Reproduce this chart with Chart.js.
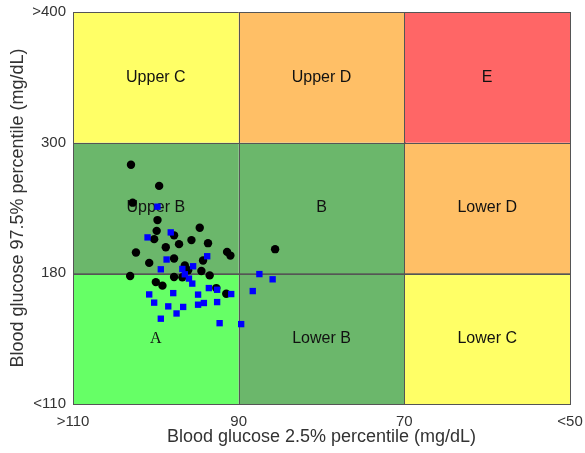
<!DOCTYPE html>
<html>
<head>
<meta charset="utf-8">
<script src="https://cdn.jsdelivr.net/npm/chart.js@4"></script>
<style>
  html, body { margin: 0; padding: 0; background: #fff; }
  #wrap { width: 585px; height: 453px; }
</style>
</head>
<body>
<div id="wrap"><canvas id="chart" width="585" height="453"></canvas></div>
<script>
// zone edges (mg/dL)
const xEdges = [110, 90, 70, 50];
const xTickLabels = ['>110', '90', '70', '<50'];
const yEdges = [110, 180, 300, 400];
const yTickLabels = ['<110', '180', '300', '>400'];

// zones, row by row from bottom to top, columns left to right
const zoneLabels = [
  ['A', 'Lower B', 'Lower C'],
  ['Upper B', 'B', 'Lower D'],
  ['Upper C', 'Upper D', 'E']
];
const zoneColors = [
  ['#66ff66', '#6bb76b', '#ffff66'],
  ['#6bb76b', '#6bb76b', '#ffbf66'],
  ['#ffff66', '#ffbf66', '#ff6666']
];

// black circles
const circleX = [103.0, 99.6, 102.8, 99.8, 99.9, 94.7, 97.8, 100.2, 95.7, 97.2, 93.7, 98.8, 102.4, 91.4, 91.0,
  85.6, 100.8, 97.8, 94.3, 96.5, 96.1, 94.5, 93.5, 103.1, 97.8, 96.8, 100.0, 99.2, 92.7, 91.5];
const circleY = [279.7, 260.3, 244.9, 228.9, 219.0, 221.8, 214.9, 211.4, 210.5, 206.8, 207.7, 204.0, 199.1, 199.7, 196.3,
  202.2, 189.6, 193.6, 191.8, 187.2, 182.8, 182.2, 178.9, 178.6, 178.0, 177.9, 175.3, 173.4, 172.1, 169.1];

// blue squares
const squareX = [99.8, 98.2, 101.0, 93.8, 98.7, 95.5, 99.4, 96.8, 96.5, 96.0, 95.6, 87.5, 85.9, 93.6, 92.6,
  90.9, 88.3, 100.8, 97.9, 94.9, 100.2, 98.5, 96.7, 94.9, 94.2, 92.6, 97.5, 99.4, 92.3, 89.7];
const squareY = [241.2, 217.6, 213.0, 195.7, 192.7, 186.5, 183.7, 184.0, 179.5, 177.2, 174.5, 179.6, 176.8, 172.1, 171.2,
  168.9, 170.5, 168.7, 169.4, 168.6, 164.3, 162.3, 162.0, 163.2, 164.1, 164.6, 158.5, 155.7, 153.3, 152.8];

// the y axis is split into equal bands, so map mg/dL to band units
function toBand(v) {
  for (let i = 0; i < yEdges.length - 1; i++) {
    if (v <= yEdges[i + 1]) return i + (v - yEdges[i]) / (yEdges[i + 1] - yEdges[i]);
  }
  return yEdges.length - 1;
}

const pts = (xs, ys) => xs.map((x, i) => ({ x: x, y: toBand(ys[i]) }));

const zonePlugin = {
  id: 'zones',
  beforeDatasetsDraw(chart) {
    const { ctx, scales: { x, y } } = chart;
    ctx.save();
    for (let r = 0; r < 3; r++) {
      for (let c = 0; c < 3; c++) {
        const x0 = x.getPixelForValue(xEdges[c]), x1 = x.getPixelForValue(xEdges[c + 1]);
        const y0 = y.getPixelForValue(r + 1), y1 = y.getPixelForValue(r);
        ctx.fillStyle = zoneColors[r][c];
        ctx.fillRect(x0, y0, x1 - x0, y1 - y0);
        ctx.strokeStyle = '#555';
        ctx.lineWidth = 1;
        ctx.strokeRect(Math.round(x0) + 0.5, Math.round(y0) + 0.5, Math.round(x1 - x0), Math.round(y1 - y0));
        ctx.fillStyle = '#111';
        ctx.textAlign = 'center';
        ctx.textBaseline = 'middle';
        ctx.font = zoneLabels[r][c] === 'A' ? '16px "Liberation Serif"' : '16px "Liberation Sans", Arial';
        ctx.fillText(zoneLabels[r][c], (x0 + x1) / 2, (y0 + y1) / 2);
      }
    }
    ctx.restore();
  }
};

new Chart(document.getElementById('chart'), {
  type: 'scatter',
  data: {
    datasets: [
      {
        data: pts(squareX, squareY),
        pointStyle: 'rect',
        pointRadius: 4.5,
        backgroundColor: '#0000ff',
        borderWidth: 0
      },
      {
        data: pts(circleX, circleY),
        pointStyle: 'circle',
        pointRadius: 4.2,
        backgroundColor: '#000',
        borderWidth: 0
      }
    ]
  },
  options: {
    responsive: false,
    animation: false,
    layout: { padding: { top: 12, right: 15, left: 0, bottom: 0 } },
    plugins: { legend: { display: false }, tooltip: { enabled: false } },
    scales: {
      x: {
        type: 'linear',
        min: 50, max: 110,
        reverse: true,
        grid: { display: false, drawTicks: false },
        border: { display: false },
        afterBuildTicks: s => { s.ticks = xEdges.map(v => ({ value: v })); },
        afterFit: s => { s.height = 49; s.paddingLeft = 0; s.paddingRight = 0; },
        ticks: {
          padding: 9,
          color: '#333',
          font: { family: '"Liberation Sans", Arial', size: 15 },
          maxRotation: 0,
          callback: v => xTickLabels[xEdges.indexOf(v)]
        },
        title: {
          display: true,
          text: 'Blood glucose 2.5% percentile (mg/dL)',
          color: '#333',
          font: { family: '"Liberation Sans", Arial', size: 18 },
          padding: { top: 0, bottom: 5 }
        }
      },
      y: {
        type: 'linear',
        min: 0, max: 3,
        grid: { display: false, drawTicks: false },
        border: { display: false },
        afterBuildTicks: s => { s.ticks = [0, 1, 2, 3].map(v => ({ value: v })); },
        afterFit: s => { s.width = 73; s.paddingTop = 0; s.paddingBottom = 0; },
        ticks: {
          padding: 7,
          color: '#333',
          font: { family: '"Liberation Sans", Arial', size: 15 },
          callback: v => yTickLabels[v]
        },
        title: {
          display: true,
          text: 'Blood glucose 97.5% percentile (mg/dL)',
          color: '#333',
          font: { family: '"Liberation Sans", Arial', size: 18 },
          padding: { top: 7, bottom: 0 }
        }
      }
    }
  },
  plugins: [zonePlugin]
});
</script>
</body>
</html>
